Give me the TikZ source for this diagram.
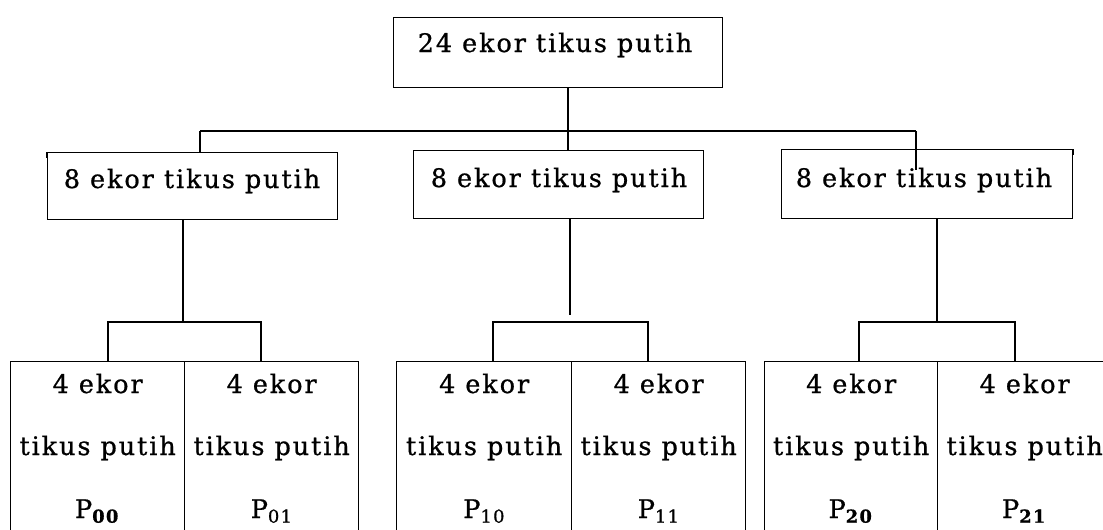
\documentclass[tikz,border=0pt]{standalone}
\usepackage{fontspec}
\setmainfont{DejaVu Serif}[LetterSpace=7.5,FakeBold=0.8]
\begin{document}
\begin{tikzpicture}[x=1pt,y=-1pt,line width=1.3pt,
  box/.style={draw,rectangle,inner sep=0pt,anchor=north west},
  txt/.style={font=\fontsize{25.5}{28}\selectfont,inner sep=0pt,anchor=base}]
\useasboundingbox (0,0) rectangle (1103,530);
\clip (0,0) rectangle (1103,530);

% top level: the whole group
\node[box,minimum width=329,minimum height=70] (T) at (393,17) {};
\node[txt] (tT) at (555,52) {24 ekor tikus putih};

% second level: three groups of eight
\node[box,minimum width=290,minimum height=67] (A) at (47,152) {};
\node[box,minimum width=290,minimum height=68] (B) at (413,150) {};
\node[box,minimum width=291,minimum height=69] (C) at (781,149) {};
\node[txt] (tA) at (192,188) {8 ekor tikus putih};
\node[txt] (tB) at (559,187) {8 ekor tikus putih};
\node[txt] (tC) at (924,187) {8 ekor tikus putih};

% third level: six cells of four, bottoms run past the page edge
\foreach \n/\x/\w/\s in {A0/10/174/{\textbf{00}},A1/184/174/{01},
                         B0/396/175/{10},B1/571/174/{11},
                         C0/764/173/{\textbf{20}},C1/937/174/{\textbf{21}}}{
  \node[box,minimum width=\w,minimum height=180] (\n) at (\x,361) {};
  \node[txt] (\n a) at (\n.north |- 0,393) {4 ekor};
  \node[txt] (\n b) at (\n.north |- 0,455) {tikus putih};
  \node[txt] (\n c) at (\n.north |- 0,518) {P\textsubscript{\s}};
}

% small corner ticks
\draw (A.north west) -- ++(0,6);
\draw (C.north east) -- ++(0,6);

% connectors from the top box
\coordinate (jT) at (568,131);
\coordinate (jA) at (200,131);
\coordinate (jC) at (916,131);
\coordinate (jCend) at (916,170);
\draw (T.south -| jT) -- (B.north -| jT);
\draw (jA) -- (jC);
\draw (jA) -- (A.north -| jA);
\draw (jC) -- (jCend);

% connectors to the cells
\coordinate (kA) at (183,322);
\coordinate (bA0) at (108,322);
\coordinate (bA1) at (261,322);
\draw (A.south -| kA) -- (kA);
\draw (A0.north -| bA0) -- (bA0) -- (bA1) -- (A1.north -| bA1);

\coordinate (kB) at (570,315);
\coordinate (bB0) at (493,322);
\coordinate (bB1) at (648,322);
\draw (B.south -| kB) -- (kB);
\draw (B0.north -| bB0) -- (bB0) -- (bB1) -- (B1.north -| bB1);

\coordinate (kC) at (937,322);
\coordinate (bC0) at (859,322);
\coordinate (bC1) at (1015,322);
\draw (C.south -| kC) -- (kC);
\draw (C0.north -| bC0) -- (bC0) -- (bC1) -- (C1.north -| bC1);
\end{tikzpicture}
\end{document}
